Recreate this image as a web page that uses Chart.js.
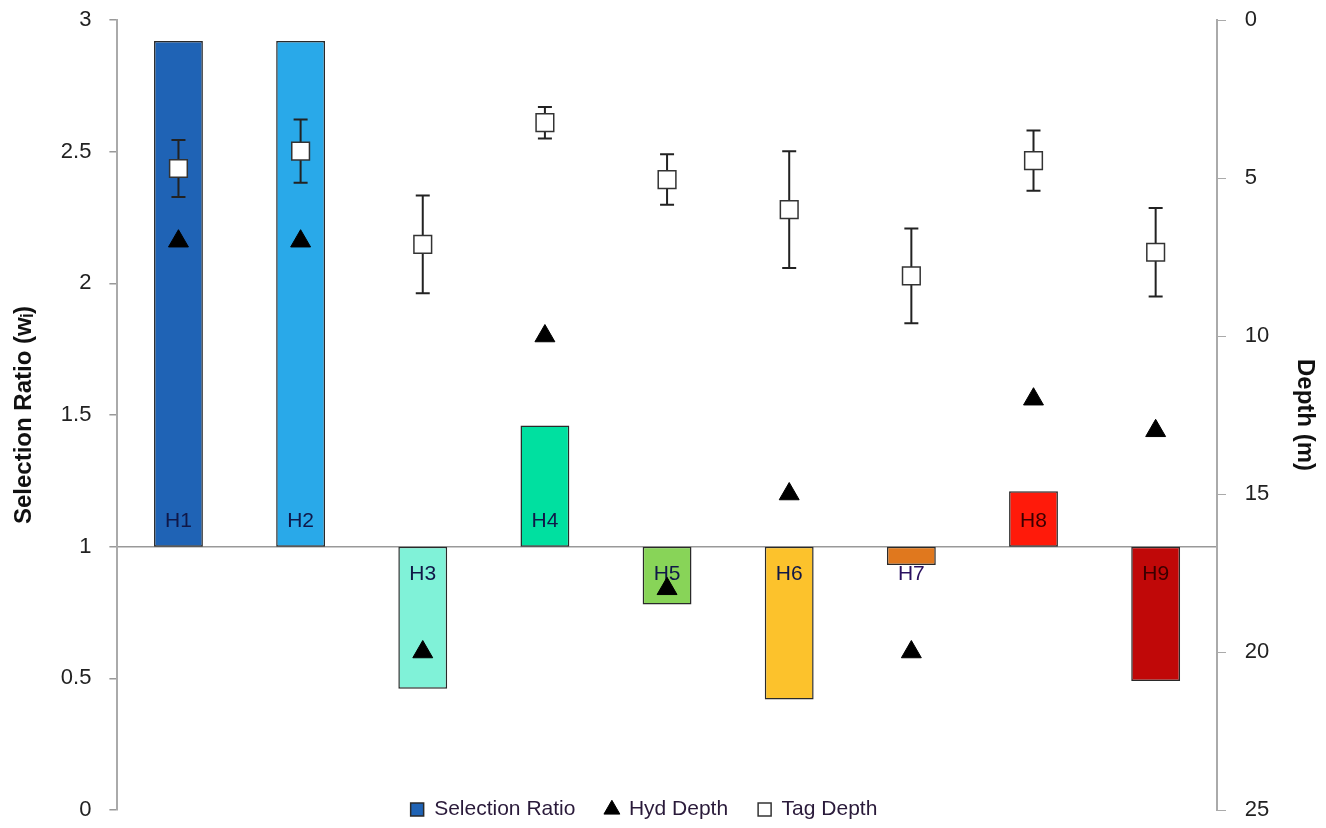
<!DOCTYPE html>
<html lang="en">

<head>
    <meta charset="UTF-8">
    <script src="https://cdn.jsdelivr.net/npm/chart.js"></script>
    <title>Selection Ratio</title>
    <style>
        body { margin: 0; background: #fff; }
        #wrap { width: 1326px; height: 828px; position: relative; }
    </style>
</head>

<body>
    <div id="wrap"><canvas id="grafico"></canvas></div>
</body>

</html>

<script>
    // dados
    const habitats = ['H1', 'H2', 'H3', 'H4', 'H5', 'H6', 'H7', 'H8', 'H9']
    const selectionRatio = [2.92, 2.92, 0.46, 1.46, 0.78, 0.42, 0.93, 1.21, 0.49]
    const hydDepth = [7, 7, 20, 10, 18, 15, 20, 12, 13]
    const tagDepth = [4.7, 4.15, 7.1, 3.25, 5.05, 6.0, 8.1, 4.45, 7.35]
    const tagErro = [0.9, 1.0, 1.55, 0.5, 0.8, 1.85, 1.5, 0.95, 1.4]
    const ticksEsquerda = [0, 0.5, 1, 1.5, 2, 2.5, 3]
    const ticksDireita = [0, 5, 10, 15, 20, 25]

    const coresBarras = ['#1f63b5', '#29a9e9', '#80f2d8', '#00e0a0', '#88d458', '#fcc22c', '#e0781e', '#ff1a0a', '#c00808']
    const coresRotulos = ['#101848', '#101848', '#101848', '#101848', '#101848', '#101848', '#2a1060', '#3a0000', '#3a0000']
    const fonte = '"Liberation Sans", Arial, sans-serif'

    Chart.defaults.font.family = fonte
    Chart.defaults.color = '#222'

    // barras de erro + rotulos H1..H9, e legenda sobre a base do grafico
    const extras = {
        id: 'extras',
        afterLayout(chart) {
            const lg = chart.legend
            const h = lg.bottom - lg.top
            lg.top = chart.chartArea.bottom - 41
            lg.bottom = lg.top + h
            lg.left -= 20
            lg.right -= 20
        },
        afterDatasetDraw(chart, args) {
            if (args.index !== 0) return
            const ctx = chart.ctx
            const x = chart.scales.x
            const y = chart.scales.y
            const y2 = chart.scales.y2
            ctx.save()
            ctx.font = '21px ' + fonte
            ctx.textAlign = 'center'
            ctx.textBaseline = 'middle'
            const base = y.getPixelForValue(1)
            habitats.forEach((h, i) => {
                const px = x.getPixelForValue(i)
                ctx.fillStyle = coresRotulos[i]
                const ty = selectionRatio[i] >= 1 ? base - 25 : base + 28
                ctx.fillText(h, px, ty)
            })
            ctx.strokeStyle = '#222'
            ctx.lineWidth = 2
            habitats.forEach((h, i) => {
                const px = x.getPixelForValue(i)
                const top = y2.getPixelForValue(tagDepth[i] - tagErro[i])
                const bot = y2.getPixelForValue(tagDepth[i] + tagErro[i])
                ctx.beginPath()
                ctx.moveTo(px, top); ctx.lineTo(px, bot)
                ctx.moveTo(px - 7, top); ctx.lineTo(px + 7, top)
                ctx.moveTo(px - 7, bot); ctx.lineTo(px + 7, bot)
                ctx.stroke()
            })
            ctx.restore()
        }
    }

    new Chart(grafico, {
        type: 'bar',
        data: {
            labels: habitats,
            datasets: [{
                label: 'Selection Ratio',
                data: selectionRatio.map(v => [1, v]),
                backgroundColor: coresBarras,
                borderColor: '#2a2a2a',
                borderWidth: 1.5,
                borderSkipped: false,
                categoryPercentage: 0.8,
                barPercentage: 0.5,
                pointStyle: 'rect',
                yAxisID: 'y',
                order: 3
            }, {
                type: 'line',
                label: 'Hyd Depth',
                data: hydDepth,
                showLine: false,
                pointStyle: 'triangle',
                pointRadius: 11.5,
                backgroundColor: '#000',
                borderColor: '#000',
                borderWidth: 1,
                yAxisID: 'y2',
                order: 2
            }, {
                type: 'line',
                label: 'Tag Depth',
                data: tagDepth,
                showLine: false,
                pointStyle: 'rect',
                pointRadius: 12.5,
                backgroundColor: '#fff',
                borderColor: '#333',
                borderWidth: 1.5,
                yAxisID: 'y2',
                order: 1
            }]
        },
        options: {
            responsive: true,
            maintainAspectRatio: false,
            animation: false,
            layout: { padding: { left: 6, right: 4, top: 20, bottom: -43 } },
            plugins: {
                tooltip: { enabled: false },
                legend: {
                    position: 'bottom',
                    labels: {
                        usePointStyle: true,
                        boxWidth: 13,
                        boxHeight: 13,
                        padding: 30,
                        font: { size: 21 },
                        color: '#2a1a3a',
                        sort: (a, b) => a.datasetIndex - b.datasetIndex
                    }
                }
            },
            scales: {
                x: {
                    display: false,
                    offset: true
                },
                y: {
                    position: 'left',
                    min: 0,
                    max: 3,
                    afterBuildTicks: s => { s.ticks = ticksEsquerda.map(v => ({ value: v })) },
                    ticks: { font: { size: 22 }, color: '#222', padding: 0, callback: v => String(v) },
                    grid: {
                        color: c => c.tick && c.tick.value === 1 ? '#999' : 'rgba(0,0,0,0)',
                        lineWidth: 1.5,
                        tickColor: '#999',
                        tickLength: 26,
                        tickBorderDash: [0, 18, 8, 100]
                    },
                    border: { display: true, color: '#aaa', width: 2 },
                    title: {
                        display: true,
                        text: 'Selection Ratio (wᵢ)',
                        font: { size: 24, weight: 'bold' },
                        color: '#111',
                        padding: { top: 4, bottom: 22 }
                    }
                },
                y2: {
                    position: 'right',
                    reverse: true,
                    min: 0,
                    max: 25,
                    afterBuildTicks: s => { s.ticks = ticksDireita.map(v => ({ value: v })) },
                    ticks: { font: { size: 22 }, color: '#222', padding: 0, callback: v => String(v) },
                    grid: { drawOnChartArea: false, tickColor: '#aaa', tickLength: 28, tickBorderDash: [8, 60] },
                    border: { display: true, color: '#aaa', width: 2 },
                    title: {
                        display: true,
                        text: 'Depth (m)',
                        font: { size: 24, weight: 'bold' },
                        color: '#111',
                        padding: { top: 3, bottom: 21 }
                    }
                }
            }
        },
        plugins: [extras]
    });
</script>
